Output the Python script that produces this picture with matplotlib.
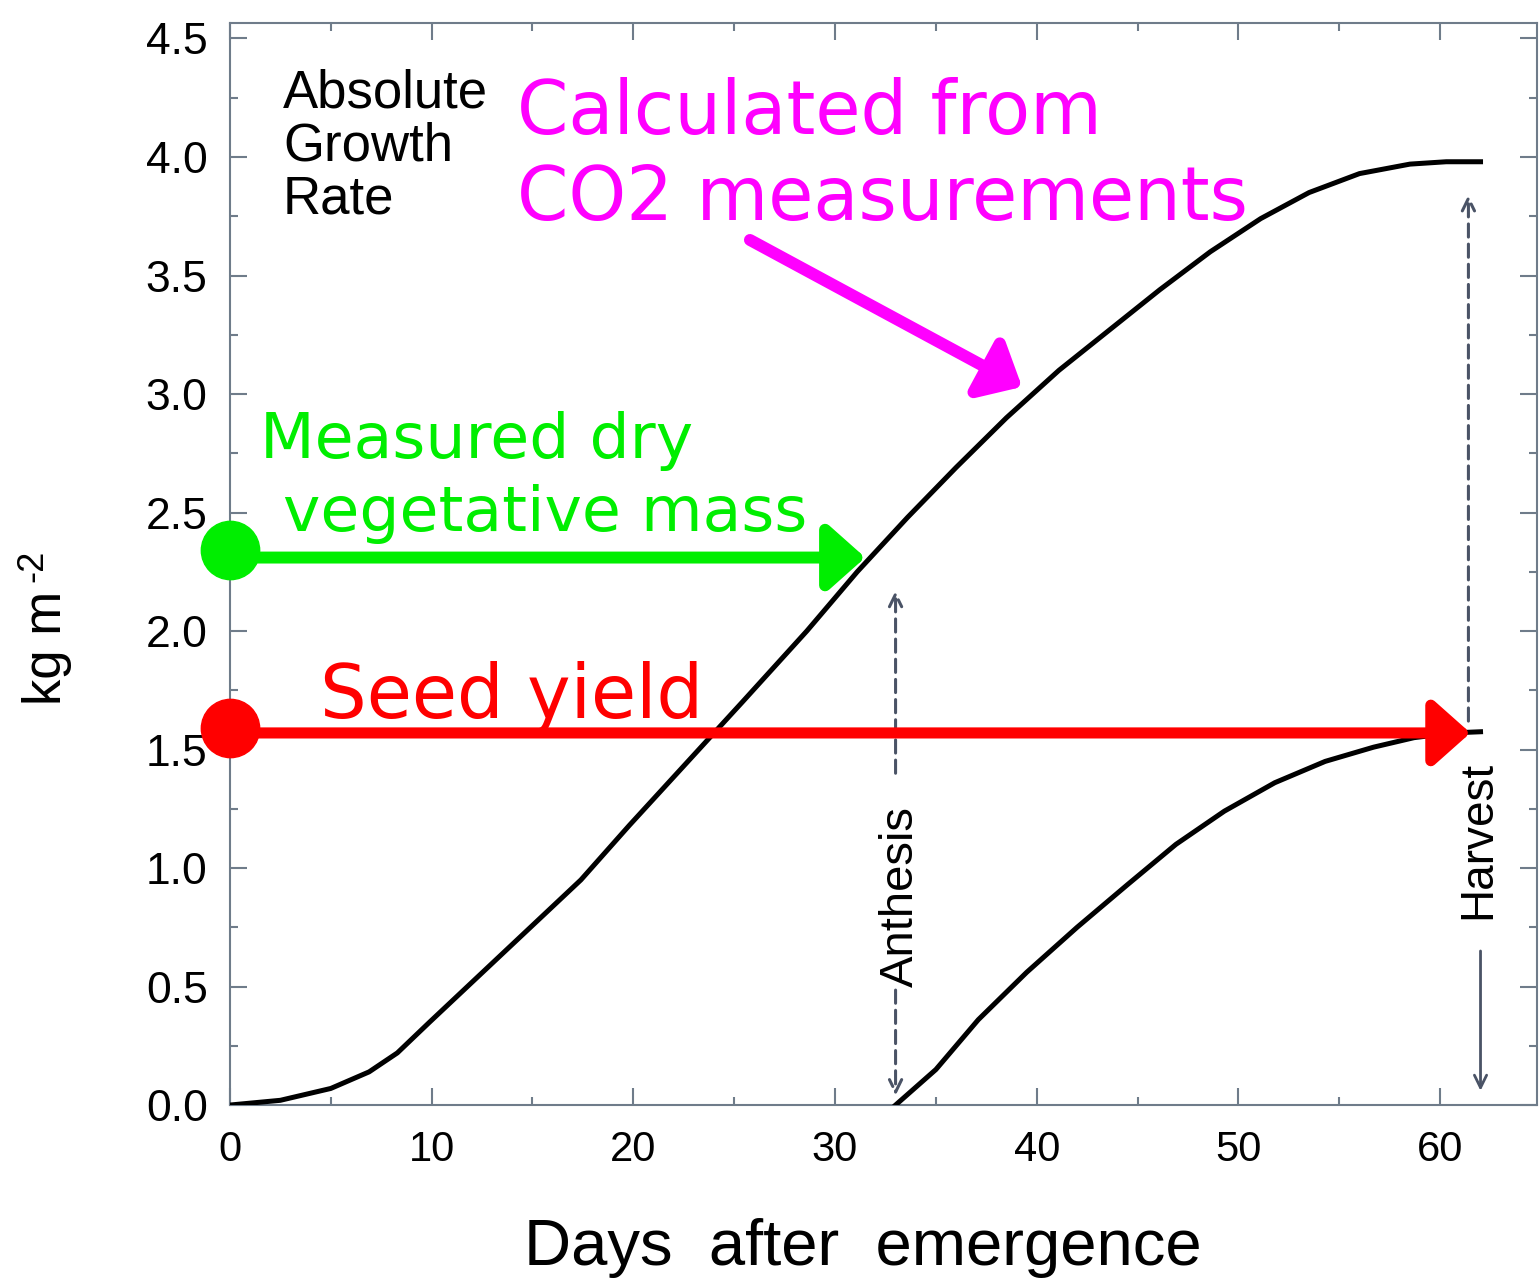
import matplotlib.pyplot as plt
from matplotlib.ticker import MultipleLocator, FormatStrFormatter

plt.rcParams['font.family'] = 'Liberation Sans'

# total dry mass, kg m-2, against days after emergence
days_total = [0, 2.5, 5, 6.9, 8.3, 9.9, 12.4, 14.9, 17.4, 19.8, 22.6, 25.4, 28.6, 31.1,
              33.6, 36.0, 38.5, 41.1, 43.6, 46.1, 48.6, 51.1, 53.5, 56.0, 58.5, 60.3, 62]
mass_total = [0, 0.02, 0.07, 0.14, 0.22, 0.35, 0.55, 0.75, 0.95, 1.18, 1.44, 1.70, 2.00, 2.25,
              2.48, 2.69, 2.90, 3.10, 3.27, 3.44, 3.60, 3.74, 3.85, 3.93, 3.97, 3.98, 3.98]

# seed mass from anthesis to harvest
days_seed = [33, 35, 37.1, 39.5, 42, 44.5, 46.9, 49.3, 51.8, 54.3, 56.7, 58.7, 60.6, 62]
mass_seed = [0, 0.15, 0.36, 0.56, 0.75, 0.93, 1.10, 1.24, 1.36, 1.45, 1.51, 1.55, 1.57, 1.575]

anthesis_day = 33
harvest_day = 62
vegetative_mass = 2.31
seed_yield = 1.57

axis_col = '#6f7c8a'
marker_col = '#4a5366'
green = '#00ee00'
magenta = '#ff00ff'
red = '#ff0000'

fig = plt.figure(figsize=(15.39, 12.83), dpi=100)
ax = fig.add_axes([0.1494, 0.1387, 0.8493, 0.8433])

ax.plot(days_total, mass_total, color='black', lw=3.6, solid_joinstyle='round', zorder=3)
ax.plot(days_seed, mass_seed, color='black', lw=3.6, solid_joinstyle='round', zorder=3)

ax.set_xlim(0, 64.8)
ax.set_ylim(0, 4.565)
ax.xaxis.set_major_locator(MultipleLocator(10))
ax.xaxis.set_minor_locator(MultipleLocator(5))
ax.yaxis.set_major_locator(MultipleLocator(0.5))
ax.yaxis.set_minor_locator(MultipleLocator(0.25))
ax.yaxis.set_major_formatter(FormatStrFormatter('%.1f'))
ax.tick_params(which='both', direction='in', top=True, right=True, color=axis_col, width=1.5)
ax.tick_params(which='major', length=12)
ax.tick_params(which='minor', length=6)
ax.tick_params(axis='y', labelsize=32, pad=16)
ax.tick_params(axis='x', labelsize=30, pad=18)
for sp in ax.spines.values():
    sp.set_color(axis_col)
    sp.set_linewidth(1.5)

fig.text(863 / 1539, 18 / 1283, 'Days  after  emergence', ha='center', va='baseline', fontsize=47)
fig.text(47 / 1539, 1 - 648 / 1283, 'kg m', rotation=90, ha='center', va='center', fontsize=38)
fig.text(33 / 1539, 1 - 566 / 1283, '-2', rotation=90, ha='center', va='center', fontsize=26)

# anthesis and harvest markers
head = '->,head_length=0.45,head_width=0.22'
dash_arrow = dict(arrowstyle=head, lw=2.2, color=marker_col, linestyle=(0, (4.3, 2.3)),
                  shrinkA=0, shrinkB=0, mutation_scale=20)
solid_arrow = dict(arrowstyle=head, lw=2.0, color=marker_col, shrinkA=0, shrinkB=0,
                   mutation_scale=20)
ax.annotate('', xy=(anthesis_day, 2.17), xytext=(anthesis_day, 1.40), arrowprops=dash_arrow)
ax.annotate('', xy=(anthesis_day, 0.04), xytext=(anthesis_day, 0.485), arrowprops=dash_arrow)
ax.text(anthesis_day + 0.25, 0.88, 'Anthesis', rotation=90, ha='center', va='center', fontsize=34)

ax.annotate('', xy=(harvest_day - 0.6, 3.84), xytext=(harvest_day - 0.6, 1.62), arrowprops=dash_arrow)
ax.annotate('', xy=(harvest_day, 0.06), xytext=(harvest_day, 0.65), arrowprops=solid_arrow)
ax.text(harvest_day - 0.1, 1.12, 'Harvest', rotation=90, ha='center', va='center', fontsize=33)

ax.text(2.63, 4.21, 'Absolute', fontsize=38, va='baseline')
ax.text(2.63, 3.987, 'Growth', fontsize=38, va='baseline')
ax.text(2.63, 3.76, 'Rate', fontsize=38, va='baseline')

# coloured call-outs
big_arrow = '-|>,head_length=0.45,head_width=0.4'
ax.annotate('', xy=(39.27, 3.03), xytext=(25.78, 3.65),
            arrowprops=dict(arrowstyle=big_arrow, lw=8.6, color=magenta, shrinkA=0, shrinkB=0,
                            mutation_scale=50), zorder=5)
ax.text(14.23, 4.097, 'Calculated from', color=magenta, fontsize=53, family='DejaVu Sans', va='baseline')
ax.text(14.23, 3.735, 'CO2 measurements', color=magenta, fontsize=53, family='DejaVu Sans', va='baseline')

ax.annotate('', xy=(31.5, vegetative_mass), xytext=(0, vegetative_mass),
            arrowprops=dict(arrowstyle=big_arrow, lw=8.6, color=green, shrinkA=0, shrinkB=0,
                            mutation_scale=50), zorder=5, annotation_clip=False)
ax.plot([0], [vegetative_mass + 0.03], 'o', color=green, ms=42, clip_on=False, zorder=6)
ax.text(1.49, 2.728, 'Measured dry', color=green, fontsize=45.5, family='DejaVu Sans', va='baseline')
ax.text(2.63, 2.421, 'vegetative mass', color=green, fontsize=45.5, family='DejaVu Sans', va='baseline')

ax.annotate('', xy=(61.5, seed_yield), xytext=(0, seed_yield),
            arrowprops=dict(arrowstyle=big_arrow, lw=8.0, color=red, shrinkA=0, shrinkB=0,
                            mutation_scale=50), zorder=5, annotation_clip=False)
ax.plot([0], [seed_yield + 0.02], 'o', color=red, ms=42, clip_on=False, zorder=6)
ax.text(4.46, 1.634, 'Seed yield', color=red, fontsize=53, family='DejaVu Sans', va='baseline')

fig.savefig('out.png', dpi=100)
